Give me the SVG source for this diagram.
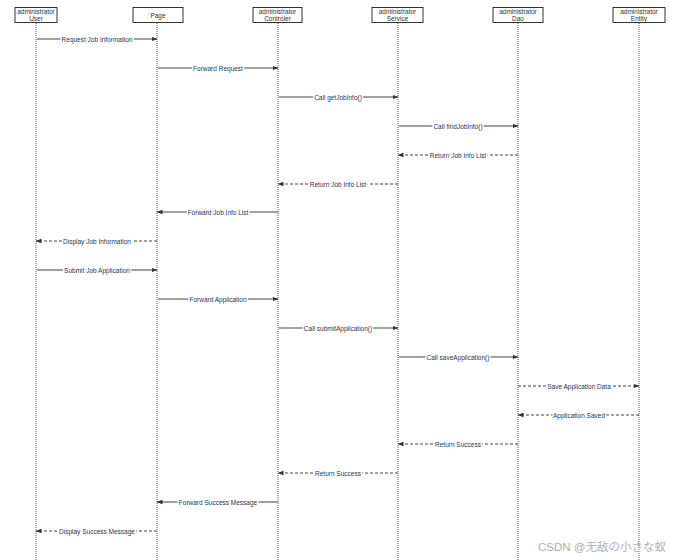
<svg xmlns="http://www.w3.org/2000/svg" width="680" height="560" viewBox="0 0 680 560">
<style>
.box{fill:#fff;stroke:#333;stroke-width:1}
.ht{font-family:"Liberation Sans",Arial,sans-serif;font-size:6.5px;fill:#333;text-anchor:middle}
.life{stroke:#555;stroke-width:1;stroke-dasharray:1,1;fill:none}
.msg{stroke:#444;stroke-width:1.2;fill:none}
.ret{stroke:#444;stroke-width:1.1;stroke-dasharray:3,2;fill:none}
.lbl{font-family:"Liberation Sans",Arial,sans-serif;font-size:6.5px;fill:#2b3550;text-anchor:middle;stroke:#fff;stroke-width:3;paint-order:stroke;stroke-linejoin:round}
.wm{font-family:"Liberation Sans","Noto Sans CJK JP",sans-serif;font-size:11.5px;fill:#b0b0b0}
</style>
<defs>
<marker id="ah" markerWidth="6" markerHeight="6" refX="5.5" refY="3" orient="auto" markerUnits="userSpaceOnUse">
<path d="M0,0.8 L6,3 L0,5.2 Z" fill="#333"/>
</marker>
</defs>
<rect width="680" height="560" fill="#fff"/>
<g id="lifelines">
<line class="life" x1="36" y1="23" x2="36" y2="560"/>
<line class="life" x1="157" y1="23" x2="157" y2="560"/>
<line class="life" x1="278" y1="23" x2="278" y2="560"/>
<line class="life" x1="398" y1="23" x2="398" y2="560"/>
<line class="life" x1="518" y1="23" x2="518" y2="560"/>
<line class="life" x1="639" y1="23" x2="639" y2="560"/>
</g>
<g id="user"><rect class="box" x="15" y="7.5" width="42" height="15"/><text class="ht" x="36" y="14">administrator</text><text class="ht" x="36" y="21">User</text></g>
<g id="page"><rect class="box" x="133" y="7.5" width="50" height="15"/><text class="ht" x="158" y="17.5">Page</text></g>
<g id="controller"><rect class="box" x="253" y="7.5" width="49" height="15"/><text class="ht" x="277.5" y="14">administrator</text><text class="ht" x="277.5" y="21">Controler</text></g>
<g id="service"><rect class="box" x="372" y="7.5" width="51" height="15"/><text class="ht" x="397.5" y="14">administrator</text><text class="ht" x="397.5" y="21">Service</text></g>
<g id="dao"><rect class="box" x="493" y="7.5" width="50" height="15"/><text class="ht" x="518" y="14">administrator</text><text class="ht" x="518" y="21">Dao</text></g>
<g id="entity"><rect class="box" x="613" y="7.5" width="52" height="15"/><text class="ht" x="639" y="14">administrator</text><text class="ht" x="639" y="21">Entity</text></g>
<g id="connectors">
<line class="msg" x1="37" y1="39" x2="157" y2="39" marker-end="url(#ah)"/>
<text class="lbl" x="97" y="41.5">Request Job Information</text>
<line class="msg" x1="158" y1="68" x2="278" y2="68" marker-end="url(#ah)"/>
<text class="lbl" x="218" y="70.5">Forward Request</text>
<line class="msg" x1="279" y1="97" x2="398" y2="97" marker-end="url(#ah)"/>
<text class="lbl" x="338" y="99.5">Call getJobInfo()</text>
<line class="msg" x1="399" y1="126" x2="518" y2="126" marker-end="url(#ah)"/>
<text class="lbl" x="458" y="128.5">Call findJobInfo()</text>
<line class="ret" x1="518" y1="155" x2="398" y2="155" marker-end="url(#ah)"/>
<text class="lbl" x="458" y="157.5">Return Job Info List</text>
<line class="ret" x1="398" y1="184" x2="278" y2="184" marker-end="url(#ah)"/>
<text class="lbl" x="338" y="186.5">Return Job Info List</text>
<line class="msg" x1="278" y1="212" x2="157" y2="212" marker-end="url(#ah)"/>
<text class="lbl" x="218" y="214.5">Forward Job Info List</text>
<line class="ret" x1="157" y1="241" x2="36" y2="241" marker-end="url(#ah)"/>
<text class="lbl" x="97" y="243.5">Display Job Information</text>
<line class="msg" x1="37" y1="270" x2="157" y2="270" marker-end="url(#ah)"/>
<text class="lbl" x="97" y="272.5">Submit Job Application</text>
<line class="msg" x1="158" y1="299" x2="278" y2="299" marker-end="url(#ah)"/>
<text class="lbl" x="218" y="301.5">Forward Application</text>
<line class="msg" x1="279" y1="328" x2="398" y2="328" marker-end="url(#ah)"/>
<text class="lbl" x="338" y="330.5">Call submitApplication()</text>
<line class="msg" x1="399" y1="357" x2="518" y2="357" marker-end="url(#ah)"/>
<text class="lbl" x="458" y="359.5">Call saveApplication()</text>
<line class="ret" x1="518" y1="386" x2="639" y2="386" marker-end="url(#ah)"/>
<text class="lbl" x="579" y="388.5">Save Application Data</text>
<line class="ret" x1="639" y1="415" x2="518" y2="415" marker-end="url(#ah)"/>
<text class="lbl" x="579" y="417.5">Application Saved</text>
<line class="ret" x1="518" y1="444" x2="398" y2="444" marker-end="url(#ah)"/>
<text class="lbl" x="458" y="446.5">Return Success</text>
<line class="ret" x1="398" y1="473" x2="278" y2="473" marker-end="url(#ah)"/>
<text class="lbl" x="338" y="475.5">Return Success</text>
<line class="msg" x1="278" y1="502" x2="157" y2="502" marker-end="url(#ah)"/>
<text class="lbl" x="218" y="504.5">Forward Success Message</text>
<line class="ret" x1="157" y1="531" x2="36" y2="531" marker-end="url(#ah)"/>
<text class="lbl" x="97" y="533.5">Display Success Message</text>
</g>
<text class="wm" x="538" y="551">CSDN @无敌の小さな蚁</text>
</svg>
